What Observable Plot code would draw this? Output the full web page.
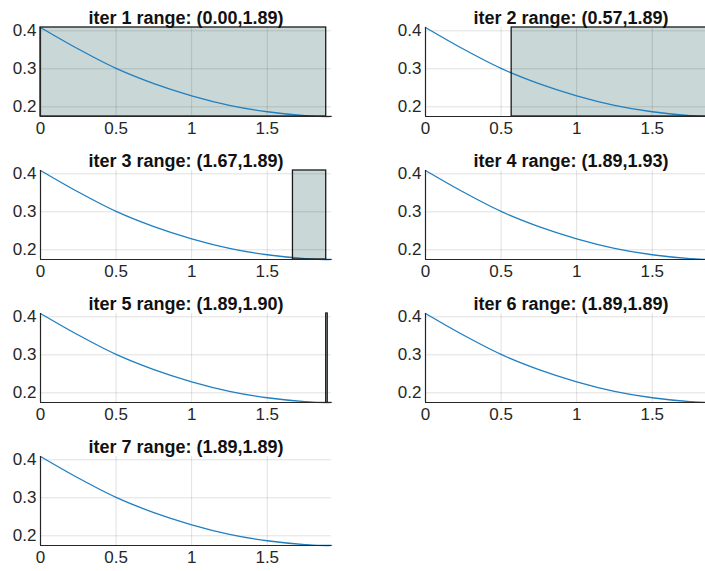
<!DOCTYPE html>
<html>
<head>
<meta charset="utf-8">
<script src="https://cdn.jsdelivr.net/npm/d3@7"></script>
<script src="https://cdn.jsdelivr.net/npm/@observablehq/plot@0.6"></script>
<style>
  html, body { margin: 0; padding: 0; background: #fff; }
  #wrap { position: relative; width: 705px; height: 571px; overflow: hidden; background: #fff; }
  .panel { position: absolute; width: 345px; height: 146px; }
  .panel svg { max-width: none !important; }
</style>
</head>
<body>
<div id="wrap"></div>
<script>
// Curve
const curveX = [0, 0.25, 0.5, 0.75, 1.0, 1.25, 1.5, 1.75, 1.89, 1.925];
const curveY = [0.4087, 0.352, 0.301, 0.261, 0.229, 0.204, 0.187, 0.177, 0.1745, 0.1746];

// Search iterations
const iters = [1, 2, 3, 4, 5, 6, 7];
const rangeLo = [0.00, 0.57, 1.67, 1.89, 1.89, 1.89, 1.89];
const rangeHi = [1.89, 1.89, 1.89, 1.93, 1.90, 1.89, 1.89];

// Ticks
const xTicks = [0, 0.5, 1, 1.5];
const xTickLabels = ["0", "0.5", "1", "1.5"];
const yTicks = [0.2, 0.3, 0.4];
const yTickLabels = ["0.2", "0.3", "0.4"];

const curve = curveX.map((x, i) => ({x, y: curveY[i]}));
const yMin = d3.min(curveY), yMax = d3.max(curveY);
const xDomain = [0, d3.max(curveX)];
const axisColor = "#262626";
const font = "'Liberation Sans', Arial, Helvetica, sans-serif";

const wrap = document.getElementById("wrap");

iters.forEach((it, i) => {
  const lo = rangeLo[i], hi = rangeHi[i];
  const col = i % 2, row = Math.floor(i / 2);
  const title = `iter ${it} range: (${lo.toFixed(2)},${hi.toFixed(2)})`;
  const rects = hi - lo > 0 ? [{x1: lo, x2: hi, y1: yMin, y2: yMax}] : [];
  const chart = Plot.plot({
    width: 345,
    height: 146,
    marginLeft: 40,
    marginRight: 14,
    marginTop: 27,
    marginBottom: 30,
    style: {fontFamily: font, fontSize: "17px", color: axisColor, background: "transparent", overflow: "visible", maxWidth: "none"},
    x: {domain: xDomain, ticks: xTicks, label: null},
    y: {domain: [yMin, yMax], ticks: yTicks, label: null},
    marks: [
      Plot.rect(rects, {x1: "x1", x2: "x2", y1: "y1", y2: "y2", fill: "#c9d7d7", stroke: "none"}),
      Plot.gridX(xTicks, {stroke: "#000", strokeOpacity: 0.12, strokeWidth: 1}),
      Plot.gridY(yTicks, {stroke: "#000", strokeOpacity: 0.12, strokeWidth: 1}),
      Plot.line(curve, {x: "x", y: "y", curve: "monotone-x", stroke: "#1f7fc0", strokeWidth: 1.3}),
      Plot.rect(rects, {x1: "x1", x2: "x2", y1: "y1", y2: "y2", fill: "none", stroke: "#1a1a1a", strokeWidth: 1.3}),
      Plot.axisX(xTicks, {tickSize: 0, tickPadding: 5, fontSize: 17, fill: axisColor, letterSpacing: "0.4px", tickFormat: (d) => xTickLabels[xTicks.indexOf(d)]}),
      Plot.axisY(yTicks, {tickSize: 0, tickPadding: 4, fontSize: 17, fill: axisColor, letterSpacing: "0.4px", tickFormat: (d) => yTickLabels[yTicks.indexOf(d)]}),
      Plot.ruleX([xDomain[0]], {stroke: axisColor, strokeWidth: 1.2}),
      Plot.ruleY([yMin], {stroke: axisColor, strokeWidth: 1.2}),
      Plot.text([title], {frameAnchor: "top", dy: -16, text: (d) => d, fontWeight: "bold", fontSize: 18, fill: "#111", letterSpacing: "0.8px"})
    ]
  });
  const div = document.createElement("div");
  div.className = "panel";
  div.style.left = (col === 0 ? 0 : 385) + "px";
  div.style.top = (row * 143) + "px";
  div.appendChild(chart);
  wrap.appendChild(div);
});
</script>
</body>
</html>
